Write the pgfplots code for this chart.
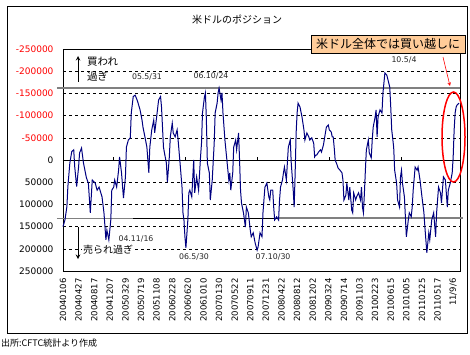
\documentclass[border=0pt]{standalone}
\usepackage{pgfplots}
\pgfplotsset{compat=1.18}
\usepackage{fontspec}
\setmainfont{DejaVu Sans}
\newfontfamily\jp{Noto Sans CJK JP}
\definecolor{navyline}{HTML}{000080}
\definecolor{peach}{HTML}{FFCC99}
\definecolor{refgray}{HTML}{808080}
\begin{document}
\begin{tikzpicture}
\path[use as bounding box] (0pt,0pt) rectangle (470pt,354pt);
\draw[black, line width=0.8pt] (7pt,21pt) rectangle (467pt,348pt);
\begin{axis}[
 at={(261.5pt,194pt)}, anchor=center, scale only axis, width=397pt, height=222pt,
 xmin=0, xmax=407, ymin=-250000, ymax=250000, y dir=reverse,
 xtick={0,16,32,48,64,80,96,112,128,144,160,176,192,208,224,240,256,272,288,304,320,336,352,368,384,400},
 xticklabels={20040106,20040427,20040817,20041207,20050329,20050719,20051108,20060228,20060620,20061010,20070130,20070522,20070911,20071231,20080422,20080812,20081202,20090324,20090714,20091103,20100223,20100615,20101005,20110125,20110517,11/9/6},
 ytick={-250000,-200000,-150000,-100000,-50000,0,50000,100000,150000,200000,250000},
 yticklabels={\textcolor{red}{-250000},\textcolor{red}{-200000},\textcolor{red}{-150000},\textcolor{red}{-100000},\textcolor{red}{-50000},0,50000,100000,150000,200000,250000},
 major tick length=0pt,
 ymajorgrids, grid style={black, dash pattern=on 3pt off 3pt, line width=0.6pt},
 axis line style={line width=0.8pt},
 xticklabel style={font=\fontsize{8.5}{9}\selectfont, yshift=-4pt, rotate=90, anchor=east},
 yticklabel style={font=\fontsize{9}{10}\selectfont, xshift=-6pt},
 scaled y ticks=false,
 clip=false,
]
\draw[black, line width=0.8pt] (axis cs:0,0) -- (axis cs:407,0);
\draw[black] (axis cs:51.3,0) -- (axis cs:51.3,-7000);
\draw[black] (axis cs:125.1,0) -- (axis cs:125.1,-7000);
\draw[black] (axis cs:199,0) -- (axis cs:199,-7000);
\draw[black] (axis cs:272.8,0) -- (axis cs:272.8,-7000);
\draw[black] (axis cs:346.7,0) -- (axis cs:346.7,-7000);
\draw[refgray, line width=2pt] (axis cs:-6.2,-163000) -- (axis cs:407,-163000);
\draw[refgray, line width=1pt] (axis cs:-6.2,131000) -- (axis cs:71.8,131000);
\draw[black, line width=1pt] (axis cs:71.8,131000) -- (axis cs:220.5,131000);
\draw[refgray, line width=2pt] (axis cs:220.5,131000) -- (axis cs:410,131000);
\addplot[navyline, line width=1pt, mark=none] coordinates {
(0,150000)(2,135000)(4,105000)(5,60000)(7,7000)(9,-19000)(11,-23000)(12,15000)(14,60000)(16,15000)(17,-16000)(19,-27000)(21,7000)(24,40000)(26,52000)(28,119000)(30,45000)(33,52000)(35,68000)(37,61000)(40,83000)(42,119000)(44,180000)(45,158000)(47,180000)(49,135000)(50,68000)(52,61000)(53,45000)(55,61000)(57,23000)(58,-7000)(60,29000)(62,86000)(64,38000)(65,-29000)(67,-45000)(69,-50000)(70,-106000)(72,-143000)(74,-146000)(76,-135000)(77,-128000)(79,-113000)(81,-90000)(82,-74000)(84,-52000)(86,-29000)(88,29000)(89,-29000)(91,-68000)(93,-90000)(94,-61000)(96,-97000)(98,-135000)(100,-143000)(101,-119000)(103,-29000)(104,-16000)(106,7000)(107,50000)(109,-7000)(110,-52000)(112,-83000)(113,-61000)(115,-52000)(117,-68000)(118,-45000)(120,7000)(122,61000)(123,119000)(124,135000)(125,173000)(126,198000)(128,135000)(129,74000)(130,68000)(132,83000)(134,0)(135,74000)(137,38000)(139,68000)(141,-7000)(142,-38000)(143,-106000)(145,-142000)(146,-151000)(147,-90000)(148,7000)(150,29000)(151,90000)(153,45000)(155,-38000)(156,-106000)(158,-128000)(159,-151000)(160,-162000)(162,-135000)(163,-151000)(164,-106000)(166,-45000)(168,0)(170,45000)(171,29000)(172,68000)(174,29000)(175,-29000)(177,-45000)(178,-23000)(180,-61000)(181,0)(182,68000)(183,97000)(185,119000)(187,151000)(188,106000)(190,119000)(192,158000)(193,173000)(195,164000)(197,187000)(199,203000)(200,196000)(202,164000)(204,173000)(205,119000)(207,61000)(209,52000)(211,83000)(212,90000)(213,68000)(215,68000)(216,106000)(217,135000)(219,128000)(221,135000)(222,90000)(223,61000)(225,45000)(226,29000)(227,16000)(229,45000)(230,7000)(231,-29000)(233,-45000)(234,7000)(236,68000)(237,106000)(238,29000)(239,-61000)(240,-106000)(241,-128000)(243,-119000)(245,-97000)(247,-68000)(248,-45000)(250,-61000)(252,-52000)(253,-45000)(255,-50000)(257,-38000)(258,-7000)(259,-11000)(260,-11000)(262,-18000)(264,-23000)(265,-18000)(267,-34000)(269,-61000)(270,-74000)(272,-79000)(273,-68000)(275,-63000)(276,-52000)(277,-52000)(278,-29000)(279,0)(281,11000)(282,18000)(284,23000)(286,29000)(287,45000)(288,90000)(290,79000)(291,52000)(293,90000)(294,61000)(296,113000)(297,119000)(298,74000)(300,90000)(301,83000)(303,74000)(305,90000)(306,61000)(307,106000)(308,119000)(309,74000)(310,23000)(311,-23000)(313,-45000)(314,-16000)(316,-5000)(317,-45000)(318,-74000)(320,-97000)(321,-113000)(322,-52000)(323,-97000)(325,-113000)(327,-106000)(328,-151000)(330,-196000)(332,-191000)(334,-173000)(335,-164000)(336,-119000)(337,-68000)(339,-29000)(340,23000)(342,52000)(343,90000)(345,106000)(346,38000)(347,23000)(348,52000)(350,83000)(351,128000)(352,173000)(354,135000)(355,119000)(357,128000)(358,106000)(359,68000)(361,16000)(363,23000)(364,16000)(366,45000)(368,83000)(370,119000)(371,151000)(373,209000)(375,164000)(376,180000)(378,135000)(380,119000)(382,173000)(383,119000)(385,61000)(387,74000)(388,97000)(390,38000)(392,45000)(394,106000)(395,68000)(397,52000)(399,29000)(400,-7000)(401,-68000)(402,-106000)(403,-119000)(404,-124000)(406,-128000)
};
\end{axis}
% title
\node[font=\jp\fontsize{10}{12}\selectfont] at (237pt,334pt) {米ドルのポジション};
% source
\node[anchor=west, inner sep=0pt, font=\jp\fontsize{9}{11}\selectfont] at (1pt,11pt) {出所:CFTC統計より作成};
% arrows and labels
\draw[-stealth, line width=1pt] (78pt,272pt) -- (78pt,298pt);
\node[anchor=west, inner sep=0pt, font=\jp\fontsize{10.5}{12}\selectfont] at (87pt,292pt) {買われ};
\node[anchor=west, inner sep=0pt, font=\jp\fontsize{10.5}{12}\selectfont] at (87pt,278pt) {過ぎ};
\draw[-stealth, line width=1pt] (78pt,127pt) -- (78pt,95pt);
\node[anchor=west, fill=white, inner sep=1pt, font=\jp\fontsize{10}{12}\selectfont] at (82pt,104pt) {売られ過ぎ};
% date labels
\node[font=\fontsize{7.8}{9}\selectfont, text=black!85] at (147pt,277pt) {05.5/31};
\node[font=\fontsize{7.8}{9}\selectfont, text=black!85] at (211pt,278pt) {06.10/24};
\node[font=\fontsize{7.8}{9}\selectfont, text=black!85] at (404pt,294pt) {10.5/4};
\node[font=\fontsize{7.8}{9}\selectfont, text=black!85] at (136pt,115pt) {04.11/16};
\node[font=\fontsize{7.8}{9}\selectfont, text=black!85] at (194pt,97pt) {06.5/30};
\node[font=\fontsize{7.8}{9}\selectfont, text=black!85] at (273pt,97pt) {07.10/30};
% callout
\draw[black, fill=peach, line width=0.6pt] (311pt,301pt) rectangle (465pt,319pt);
\node[font=\jp\fontsize{12}{14}\selectfont] at (388pt,310pt) {米ドル全体では買い越しに};
\draw[red, -stealth, line width=0.6pt] (443pt,297pt) -- (450pt,268pt);
\draw[red, line width=1.5pt] (453.5pt,217pt) ellipse [x radius=11.5pt, y radius=45pt];
\end{tikzpicture}
\end{document}
